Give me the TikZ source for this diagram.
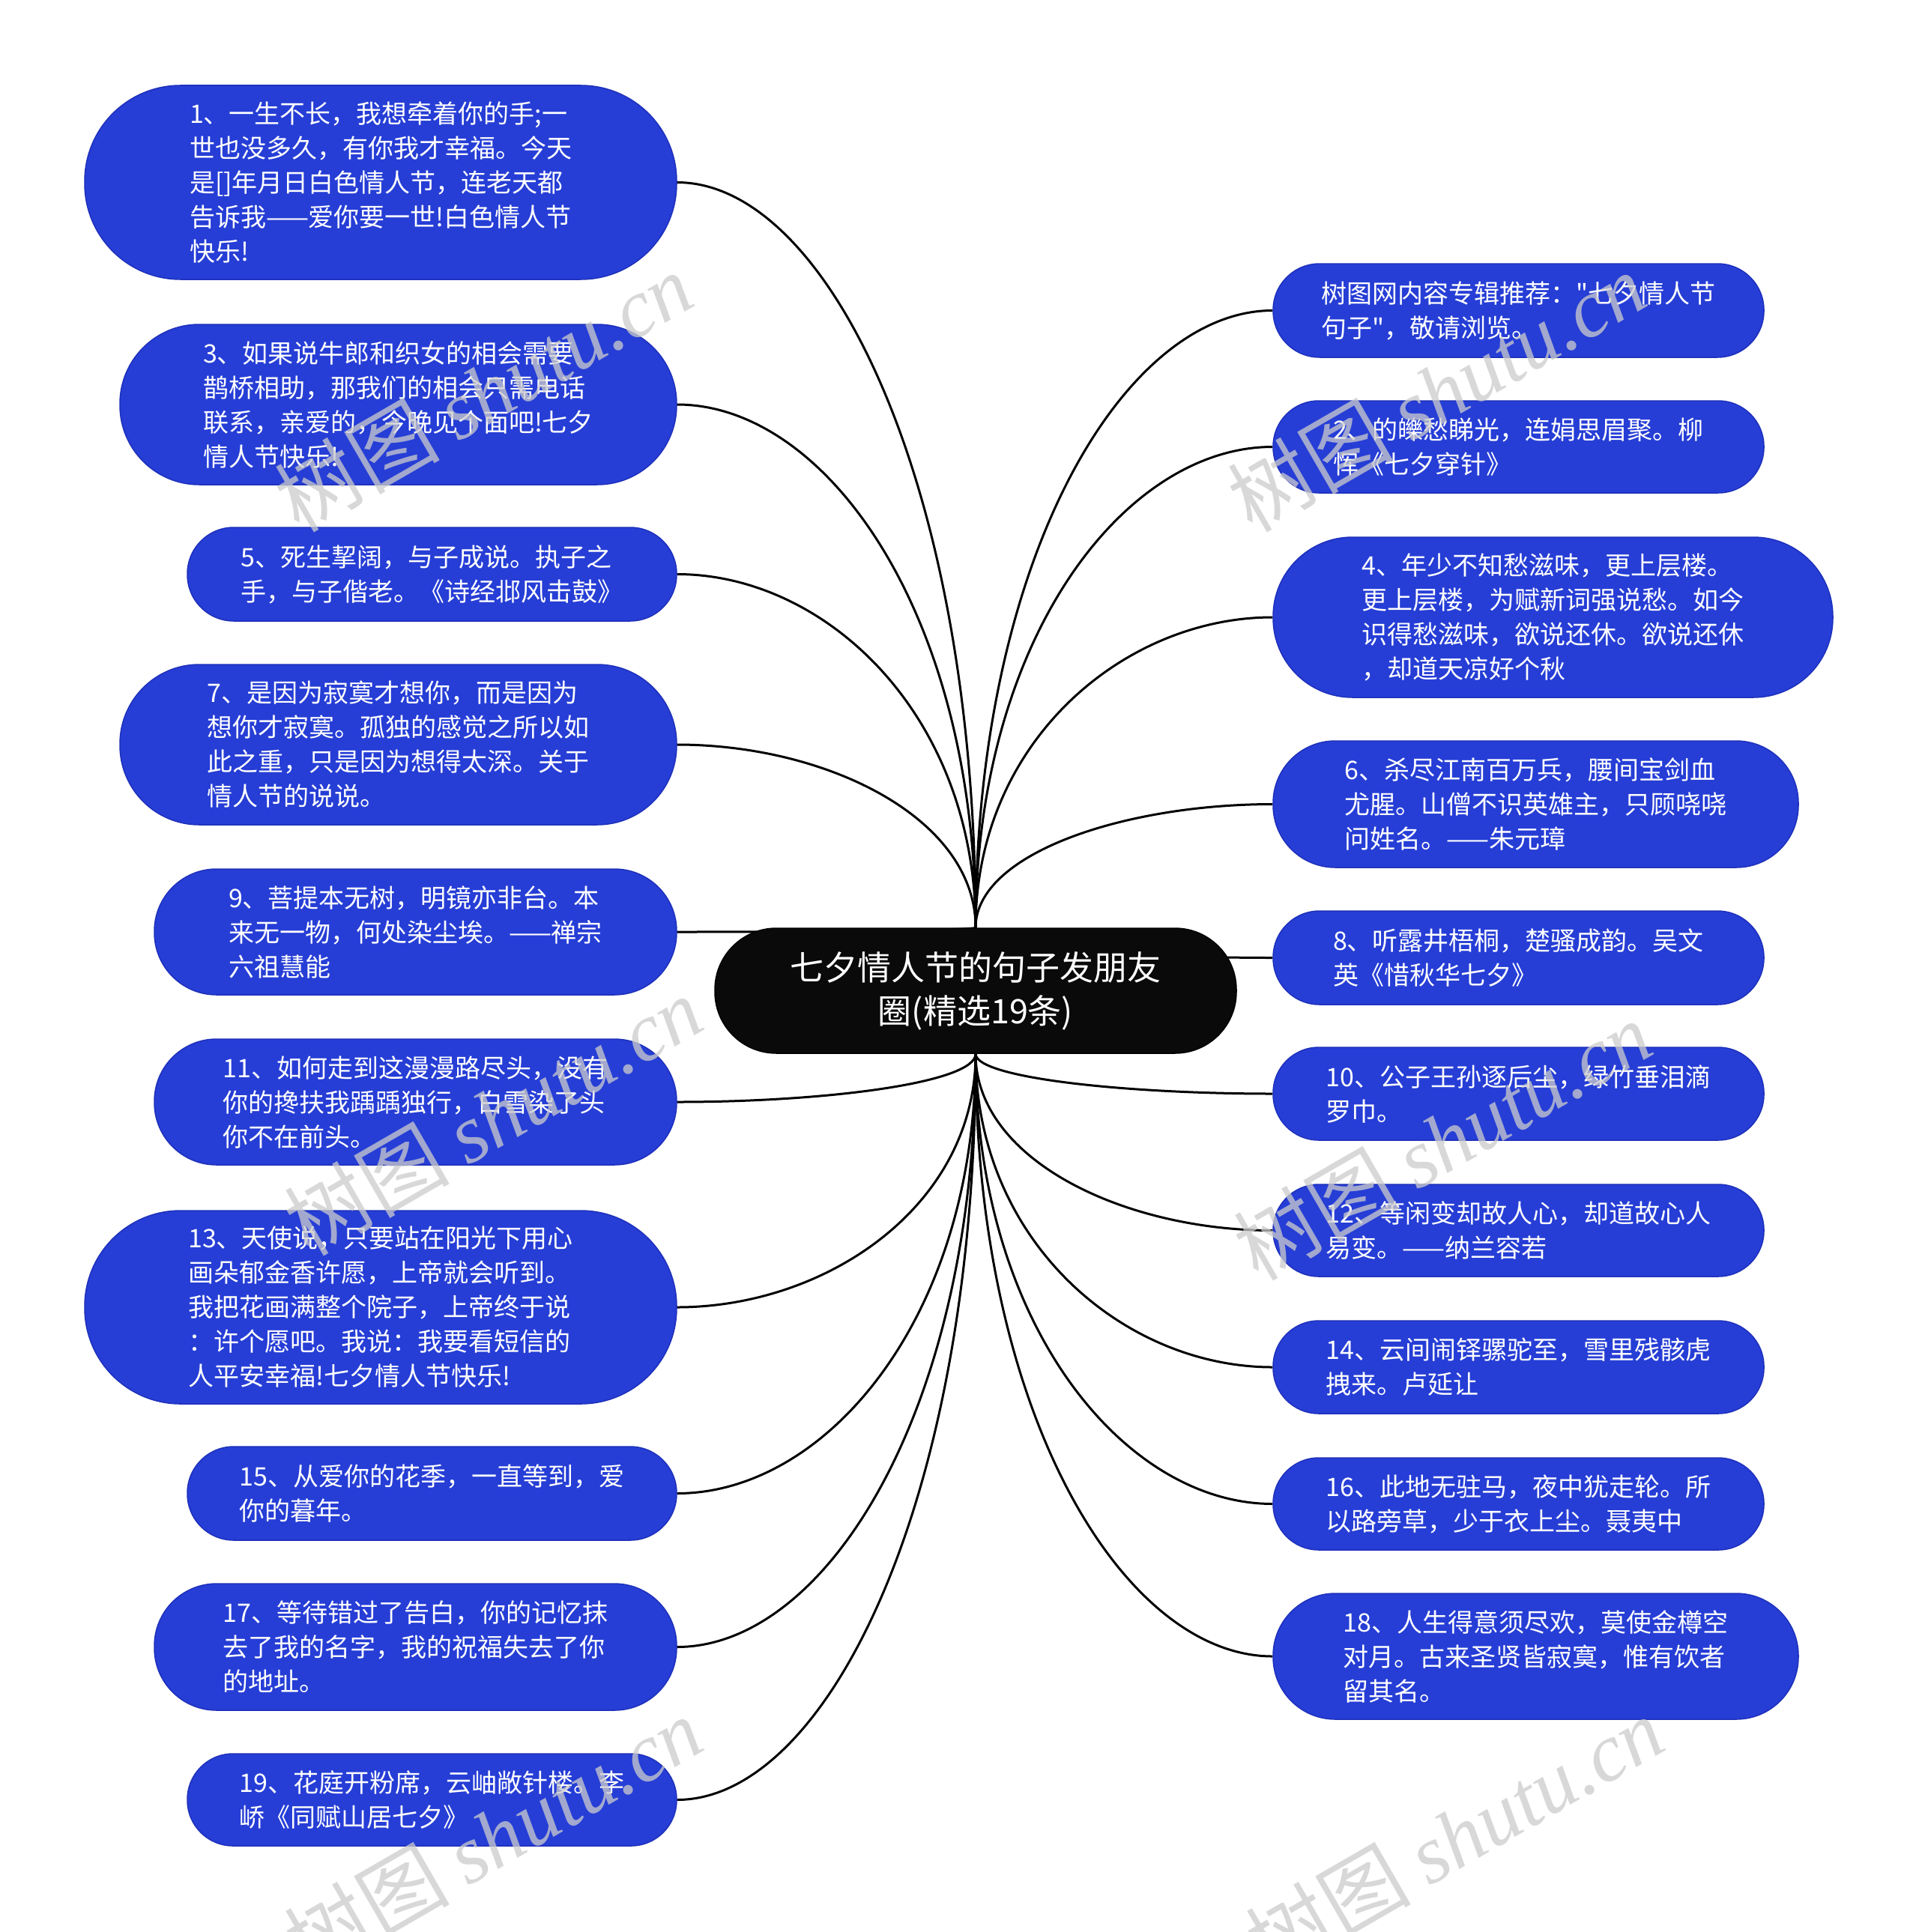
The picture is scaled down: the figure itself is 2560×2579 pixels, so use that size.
\documentclass[tikz,border=0pt]{standalone}
\usepackage{fontspec}
\setmainfont{Noto Sans CJK SC}[Ligatures=TeXOff]
\newfontfamily\wmlatin{Liberation Serif}
\usetikzlibrary{backgrounds,calc}
\definecolor{leafblue}{RGB}{38,62,214}
\definecolor{leafedge}{RGB}{30,48,186}
\definecolor{rootfill}{RGB}{10,10,10}
\tikzset{
  leaf/.style={fill=leafblue, draw=leafedge, line width=1.5pt, text=white, align=left,
    font=\fontsize{34}{46}\selectfont, inner sep=0pt},
  rootbox/.style={fill=rootfill, draw=black, line width=1.5pt, text=white, align=center,
    font=\fontsize{45}{58}\selectfont, inner sep=0pt, minimum width=696pt, minimum height=167pt,
    rounded corners=82pt},
  conn/.style={draw=black, line width=3pt},
  wm/.style={text=black!20, opacity=0.75, font=\fontsize{110}{110}\selectfont, rotate=30, inner sep=0pt},
}
\begin{document}
\begin{tikzpicture}[x=1pt,y=-1pt]
\useasboundingbox (0,0) rectangle (2560,2579);

\node[rootbox] (root) at (1302,1322.5) {七夕情人节的句子发朋友\\圈(精选19条)};

% left
\node[leaf, minimum width=790pt, minimum height=259pt, rounded corners=128pt] (n1) at (508,243.5)
 {1、一生不长，我想牵着你的手;一\\世也没多久，有你我才幸福。今天\\是[]年月日白色情人节，连老天都\\告诉我——爱你要一世!白色情人节\\快乐!};
\node[leaf, minimum width=743pt, minimum height=214pt, rounded corners=106pt] (n3) at (531.5,540)
 {3、如果说牛郎和织女的相会需要\\鹊桥相助，那我们的相会只需电话\\联系，亲爱的，今晚见个面吧!七夕\\情人节快乐!};
\node[leaf, minimum width=653pt, minimum height=125pt, rounded corners=62pt] (n5) at (576.5,766.5)
 {5、死生挈阔，与子成说。执子之\\手，与子偕老。《诗经邶风击鼓》};
\node[leaf, minimum width=743pt, minimum height=214pt, rounded corners=106pt] (n7) at (531.5,994)
 {7、是因为寂寞才想你，而是因为\\想你才寂寞。孤独的感觉之所以如\\此之重，只是因为想得太深。关于\\情人节的说说。};
\node[leaf, minimum width=697pt, minimum height=168pt, rounded corners=83pt] (n9) at (554.5,1244)
 {9、菩提本无树，明镜亦非台。本\\来无一物，何处染尘埃。——禅宗\\六祖慧能};
\node[leaf, minimum width=697pt, minimum height=168pt, rounded corners=83pt] (n11) at (554.5,1471)
 {11、如何走到这漫漫路尽头，没有\\你的搀扶我踽踽独行，白雪染了头\\你不在前头。};
\node[leaf, minimum width=790pt, minimum height=258pt, rounded corners=128pt] (n13) at (508,1745)
 {13、天使说，只要站在阳光下用心\\画朵郁金香许愿，上帝就会听到。\\我把花画满整个院子，上帝终于说\\：许个愿吧。我说：我要看短信的\\人平安幸福!七夕情人节快乐!};
\node[leaf, minimum width=653pt, minimum height=125pt, rounded corners=62pt] (n15) at (576.5,1993.5)
 {15、从爱你的花季，一直等到，爱\\你的暮年。};
\node[leaf, minimum width=697pt, minimum height=169pt, rounded corners=83pt] (n17) at (554.5,2198.5)
 {17、等待错过了告白，你的记忆抹\\去了我的名字，我的祝福失去了你\\的地址。};
\node[leaf, minimum width=653pt, minimum height=123pt, rounded corners=61pt] (n19) at (576.5,2402.5)
 {19、花庭开粉席，云岫敞针楼。李\\峤《同赋山居七夕》};

% right
\node[leaf, minimum width=655pt, minimum height=125pt, rounded corners=62pt] (r0) at (2026.5,414.5)
 {树图网内容专辑推荐："七夕情人节\\句子"，敬请浏览。};
\node[leaf, minimum width=655pt, minimum height=123pt, rounded corners=61pt] (r2) at (2026.5,596.5)
 {2、的皪愁睇光，连娟思眉聚。柳\\恽《七夕穿针》};
\node[leaf, minimum width=747pt, minimum height=214pt, rounded corners=106pt] (r4) at (2072.5,824)
 {4、年少不知愁滋味，更上层楼。\\更上层楼，为赋新词强说愁。如今\\识得愁滋味，欲说还休。欲说还休\\，却道天凉好个秋};
\node[leaf, minimum width=701pt, minimum height=169pt, rounded corners=83pt] (r6) at (2049.5,1073.5)
 {6、杀尽江南百万兵，腰间宝剑血\\尤腥。山僧不识英雄主，只顾哓哓\\问姓名。——朱元璋};
\node[leaf, minimum width=655pt, minimum height=125pt, rounded corners=62pt] (r8) at (2026.5,1278.5)
 {8、听露井梧桐，楚骚成韵。吴文\\英《惜秋华七夕》};
\node[leaf, minimum width=655pt, minimum height=124pt, rounded corners=61pt] (r10) at (2026.5,1460)
 {10、公子王孙逐后尘，绿竹垂泪滴\\罗巾。};
\node[leaf, minimum width=655pt, minimum height=123pt, rounded corners=61pt] (r12) at (2026.5,1642.5)
 {12、等闲变却故人心，却道故心人\\易变。——纳兰容若};
\node[leaf, minimum width=655pt, minimum height=124pt, rounded corners=61pt] (r14) at (2026.5,1825)
 {14、云间闹铎骡驼至，雪里残骸虎\\拽来。卢延让};
\node[leaf, minimum width=655pt, minimum height=123pt, rounded corners=61pt] (r16) at (2026.5,2007.5)
 {16、此地无驻马，夜中犹走轮。所\\以路旁草，少于衣上尘。聂夷中};
\node[leaf, minimum width=701pt, minimum height=168pt, rounded corners=83pt] (r18) at (2049.5,2211)
 {18、人生得意须尽欢，莫使金樽空\\对月。古来圣贤皆寂寞，惟有饮者\\留其名。};

\begin{scope}[on background layer]
\fill[white] (0,0) rectangle (2560,2579);
\foreach \n/\a/\s in {n1/east/north,n3/east/north,n5/east/north,n7/east/north,n9/east/north,
    n11/east/south,n13/east/south,n15/east/south,n17/east/south,n19/east/south,
    r0/west/north,r2/west/north,r4/west/north,r6/west/north,r8/west/north,
    r10/west/south,r12/west/south,r14/west/south,r16/west/south,r18/west/south}
  \draw[conn] (\n.\a) .. controls ($(\n.\a)!0.5!(root.\s |- \n.\a)$) and ($(root.\s)!0.6!(root.\s |- \n.\a)$) .. (root.\s);
\end{scope}

% watermarks
\node[wm] (w1) at (645,523) {树图 {\wmlatin\itshape shutu.cn}};
\node[wm] (w2) at (1917,523) {树图 {\wmlatin\itshape shutu.cn}};
\node[wm] (w3) at (658,1489) {树图 {\wmlatin\itshape shutu.cn}};
\node[wm] (w4) at (1925,1522) {树图 {\wmlatin\itshape shutu.cn}};
\node[wm] (w5) at (658,2451) {树图 {\wmlatin\itshape shutu.cn}};
\node[wm] (w6) at (1941,2451) {树图 {\wmlatin\itshape shutu.cn}};
\end{tikzpicture}
\end{document}
